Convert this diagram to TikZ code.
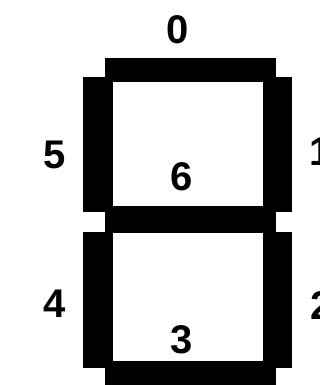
\documentclass[tikz,border=0pt]{standalone}
\usepackage{fontspec}
\setmainfont{Liberation Sans}
\usepackage{tikz}

\begin{document}
\begin{tikzpicture}[x=1pt, y=-1pt,
    segment/.style={fill=black, draw=none},
    digit/.style={font=\fontsize{40}{40}\selectfont\bfseries, inner sep=0pt, anchor=center}]
  \useasboundingbox (0,0) rectangle (320,385);
  % segments
  \fill[segment] (105,58) rectangle (276,82);   % 0
  \fill[segment] (263,77) rectangle (292,212);  % 1
  \fill[segment] (263,232) rectangle (292,368); % 2
  \fill[segment] (105,361) rectangle (276,385); % 3
  \fill[segment] (83,232) rectangle (113,368);  % 4
  \fill[segment] (83,77) rectangle (113,212);   % 5
  \fill[segment] (105,206) rectangle (276,233); % 6
  % labels
  \node[digit] (lbl0) at (178,30) {0};
  \node[digit] (lbl1) at (321,152) {1};
  \node[digit] (lbl2) at (322,306) {2};
  \node[digit] (lbl3) at (182,340) {3};
  \node[digit] (lbl4) at (55,304) {4};
  \node[digit] (lbl5) at (55,155) {5};
  \node[digit] (lbl6) at (182,177) {6};
\end{tikzpicture}
\end{document}
